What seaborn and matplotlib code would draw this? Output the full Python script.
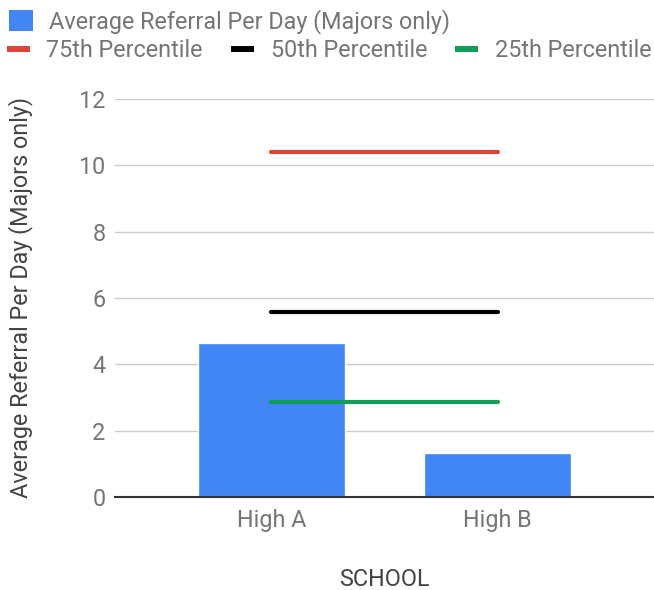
import pandas as pd
import seaborn as sns
import matplotlib.pyplot as plt
from matplotlib.patches import Patch
from matplotlib.lines import Line2D

schools = ["High A", "High B"]
avg_referrals = [4.63, 1.32]
p75 = [10.4, 10.4]
p50 = [5.57, 5.57]
p25 = [2.87, 2.87]

BLUE = "#4285f4"
RED = "#db4437"
BLACK = "#000000"
GREEN = "#0f9d58"
TICK = "#757575"
TITLE = "#444444"
FS = 16.8

sns.set_theme(style="white")
plt.rcParams["font.family"] = ["Roboto", "DejaVu Sans"]

df = pd.DataFrame({"school": schools, "avg": avg_referrals,
                   "p75": p75, "p50": p50, "p25": p25})

fig = plt.figure(figsize=(6.54, 5.9), dpi=100)
ax = fig.add_axes([0.176, 0.158, 0.824, 0.674])

sns.barplot(data=df, x="school", y="avg", color=BLUE, width=0.65,
            saturation=1, ax=ax, zorder=2)
for col, c in [("p75", RED), ("p50", BLACK), ("p25", GREEN)]:
    sns.lineplot(data=df, x="school", y=col, color=c, linewidth=3,
                 ax=ax, zorder=3, legend=False)

ax.set_ylim(0, 12)
ax.set_yticks(range(0, 13, 2))
ax.set_xlim(-0.69, 1.69)
ax.yaxis.grid(True, color="#cccccc", linewidth=1)
ax.set_axisbelow(True)
for s in ["left", "right", "top"]:
    ax.spines[s].set_visible(False)
ax.spines["bottom"].set_color("#333333")
ax.spines["bottom"].set_linewidth(1.5)
ax.tick_params(axis="both", length=0, labelsize=FS, labelcolor=TICK, pad=7)
ax.tick_params(axis="x", pad=9)
ax.set_xlabel("SCHOOL", fontsize=FS, color=TITLE)
ax.xaxis.set_label_coords(0.5, -0.18)
ax.set_ylabel("Average Referral Per Day (Majors only)", fontsize=FS,
              color=TITLE)
ax.yaxis.set_label_coords(-0.152, 0.5)

h1 = [Patch(facecolor=BLUE, edgecolor="none")]
fig.legend(h1, ["Average Referral Per Day (Majors only)"], loc="center left",
           bbox_to_anchor=(0.0, 0.964), frameon=False, fontsize=FS,
           labelcolor=TICK, handlelength=1.0, handleheight=1.0,
           handletextpad=0.7, borderaxespad=0)
h2 = [Line2D([], [], color=c, linewidth=4.3, solid_capstyle="butt")
      for c in (RED, BLACK, GREEN)]
fig.legend(h2, ["75th Percentile", "50th Percentile", "25th Percentile"],
           loc="center left", bbox_to_anchor=(-0.004, 0.914), ncol=3,
           frameon=False, fontsize=FS, labelcolor=TICK, handlelength=1.0,
           handletextpad=0.7, columnspacing=1.2, borderaxespad=0)

fig.savefig("out.png", dpi=100)
